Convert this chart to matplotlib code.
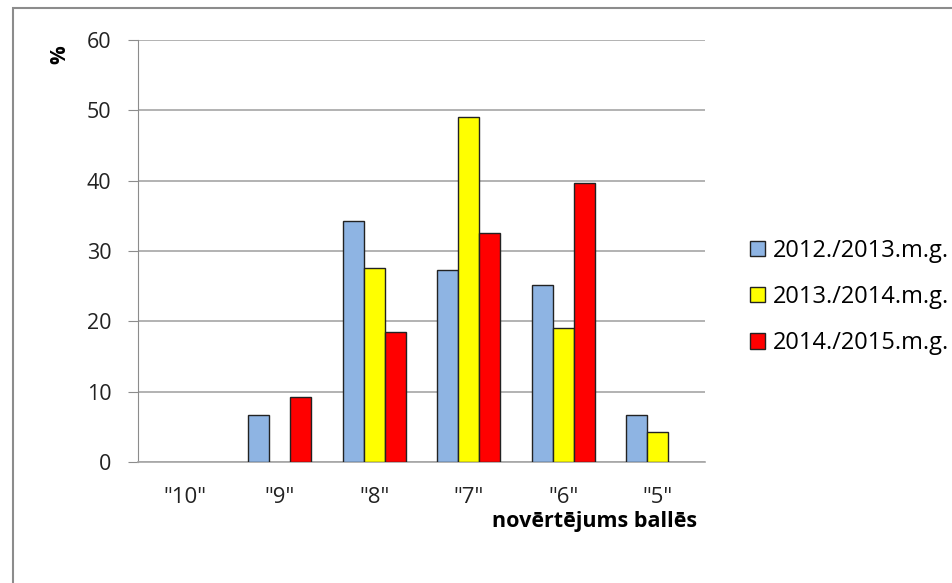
import numpy as np
import matplotlib.pyplot as plt
from matplotlib.patches import Rectangle

categories = ['"10"', '"9"', '"8"', '"7"', '"6"', '"5"']
series_names = ["2012./2013.m.g.", "2013./2014.m.g.", "2014./2015.m.g."]
vals_2013 = [0, 6.7, 34.2, 27.3, 25.1, 6.7]
vals_2014 = [0, 0, 27.6, 49.0, 19.0, 4.2]
vals_2015 = [0, 9.2, 18.5, 32.6, 39.7, 0]
colors = ["#8eb4e3", "#ffff00", "#ff0000"]

plt.rcParams['font.family'] = ['Open Sans', 'DejaVu Sans']

W, H = 953, 583
fig = plt.figure(figsize=(W / 100, H / 100), dpi=100)
ax = fig.add_axes([138 / W, 1 - 462 / H, (705 - 138) / W, (462 - 40) / H])

# outer chart border
fig.patches.append(Rectangle((13 / W, -0.1), 1.2, 1 - 8 / H + 0.1,
                             transform=fig.transFigure, fill=False,
                             edgecolor="#8c8c8c", linewidth=1.5))

x = np.arange(len(categories))
bw = 1 / 4.5
for i, (vals, c, name) in enumerate(zip([vals_2013, vals_2014, vals_2015], colors, series_names)):
    lw = [1.0 if v > 0 else 0 for v in vals]
    ax.bar(x + (i - 1) * bw, vals, width=bw, color=c, edgecolor="#222222",
           linewidth=lw, label=name, zorder=3)

ax.set_xlim(-0.5, len(categories) - 0.5)
ax.set_ylim(0, 60)
ax.set_yticks(range(0, 61, 10))
ax.yaxis.grid(True, color="#a6a6a6", linewidth=1.2, zorder=0)
ax.set_xticks(x)
ax.set_xticklabels(categories)

for s in ["top", "right"]:
    ax.spines[s].set_visible(False)
ax.spines["left"].set_color("#8c8c8c")
ax.spines["bottom"].set_color("#a6a6a6")
ax.spines["bottom"].set_linewidth(1.2)
ax.tick_params(axis="y", length=7, color="#8c8c8c", labelsize=15.5, pad=12, labelcolor="#222222")
ax.tick_params(axis="x", length=0, labelsize=16, pad=18, labelcolor="#222222")

fig.text(60 / W, 1 - 55 / H, "%", rotation=90, fontsize=15, fontweight="bold",
         ha="center", va="center")
fig.text(595 / W, 1 - 522 / H, "novērtējums ballēs", fontsize=15.5, fontweight="bold",
         ha="center", va="center")

leg = ax.legend(loc="center left", bbox_to_anchor=(750 / W, 1 - 297 / H),
                bbox_transform=fig.transFigure, frameon=False, fontsize=17,
                handlelength=0.62, handleheight=0.62, handletextpad=0.35, labelspacing=0.95,
                borderaxespad=0, borderpad=0)
for h in leg.legend_handles:
    h.set_linewidth(1.0)

fig.savefig("out.png", dpi=100)
